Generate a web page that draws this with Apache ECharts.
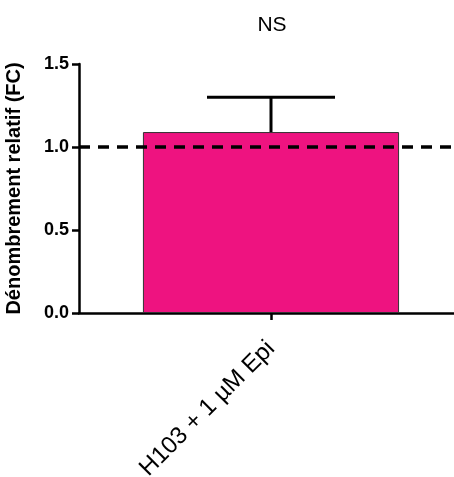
<!DOCTYPE html>
<html>
<head>
<meta charset="utf-8">
<script src="https://cdn.jsdelivr.net/npm/echarts@6/dist/echarts.min.js"></script>
<style>html,body{margin:0;padding:0;background:#fff;}#c{width:454px;height:477px;}</style>
</head>
<body>
<div id="c"></div>
<script>
const categories = ['H103 + 1 µM Epi'];
const means = [1.09];
const errUpper = [1.30];
const refValue = 1.0;
const yMin = 0, yMax = 1.5, yInterval = 0.5;
const titleText = 'NS';
const yName = 'Dénombrement relatif (FC)';

const FONT = '"Liberation Sans", Arial, sans-serif';
const chart = echarts.init(document.getElementById('c'), null, {renderer: 'canvas'});
chart.setOption({
  animation: false,
  backgroundColor: '#ffffff',
  title: {
    text: titleText, left: 267, top: 10, textAlign: 'center',
    textStyle: {fontFamily: FONT, fontSize: 21, fontWeight: 'normal', color: '#000'}
  },
  grid: {left: 79, right: -9, top: 64, bottom: 164, containLabel: false, outerBoundsMode: 'none'},
  xAxis: {
    type: 'category', data: categories,
    axisLine: {lineStyle: {color: '#000', width: 2.5}},
    axisTick: {show: true, alignWithLabel: true, length: 7, lineStyle: {width: 2.5, color: '#000'}},
    axisLabel: {rotate: 45, margin: 32, fontFamily: FONT, fontSize: 24, color: '#000'},
    splitLine: {show: false}
  },
  yAxis: {
    type: 'value', min: yMin, max: yMax, interval: yInterval,
    name: yName, nameLocation: 'middle', nameGap: 55, nameRotate: 90,
    nameTextStyle: {fontFamily: FONT, fontSize: 20, fontWeight: 'bold', color: '#000'},
    axisLine: {show: true, lineStyle: {color: '#000', width: 2.5}},
    axisTick: {show: true, length: 7, lineStyle: {width: 2.5, color: '#000'}},
    axisLabel: {margin: 10, fontFamily: FONT, fontSize: 18, fontWeight: 'bold', color: '#000',
      formatter: v => v.toFixed(1)},
    splitLine: {show: false}
  },
  series: [
    {
      type: 'bar', data: means, barCategoryGap: '33.3%',
      itemStyle: {color: '#EE1380', borderColor: '#333', borderWidth: 1},
      z: 2
    },
    {
      type: 'custom', z: 3,
      data: means.map((m, i) => [i, m, errUpper[i]]),
      renderItem: function (params, api) {
        const i = api.value(0);
        const base = api.coord([i, api.value(1)]);
        const top = api.coord([i, api.value(2)]);
        const band = api.size([1, 0])[0];
        const hw = band / 6;
        const st = {stroke: '#000', lineWidth: 3, fill: null};
        return {type: 'group', children: [
          {type: 'line', shape: {x1: base[0], y1: base[1], x2: top[0], y2: top[1]}, style: st},
          {type: 'line', shape: {x1: top[0] - hw, y1: top[1], x2: top[0] + hw, y2: top[1]}, style: st}
        ]};
      }
    },
    {
      type: 'line', data: [], z: 10,
      markLine: {
        silent: true, symbol: 'none', label: {show: false}, z: 10,
        lineStyle: {color: '#000', width: 3.5, type: [11, 8]},
        data: [{yAxis: refValue}]
      }
    }
  ]
});
</script>
</body>
</html>
